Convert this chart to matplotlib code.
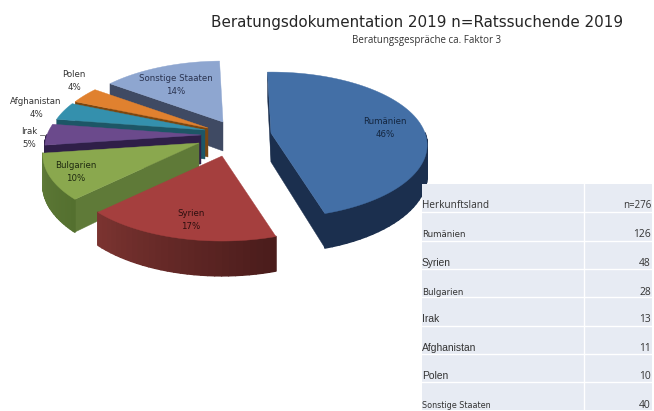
#!/usr/bin/env python3
import matplotlib
matplotlib.use("Agg")
import matplotlib.pyplot as plt
from matplotlib.patches import Polygon, Rectangle
import numpy as np

# data
laender = ['Rumänien', 'Syrien', 'Bulgarien', 'Irak', 'Afghanistan', 'Polen', 'Sonstige Staaten']
werte = [126, 48, 28, 13, 11, 10, 40]
gesamt = 276
pct_labels = ['46%', '17%', '10%', '5%', '4%', '4%', '14%']

# styles / layout, pixel coords of the source image
top_col = ['#436fa6', '#a53f3e', '#8aa84e', '#6b4a8c', '#3490ad', '#e0812f', '#8ea6d0']
rim_col = ['#1b2f4e', '#7c3431', '#5f7a38', '#2f1f48', '#1d5666', '#7c4710', '#3f4a63']
rim_end = ['#1b2f4e', '#4a1c1b', '#54702f', '#2f1f48', '#1d5666', '#7c4710', '#3f4a63']
apex = [(271, 133), (222, 156), (199, 143), (201, 135), (205, 130), (208, 128), (223, 122)]
label_pos = [(385, 128), (191, 220), (76, 172), (29, 138), (36, 108), (74, 81), (176, 85)]
table_fonts = [('Open Sans', 7.2), ('DejaVu Sans', 6.2), ('Liberation Sans', 7.4), ('DejaVu Sans', 6.2),
               ('Liberation Sans', 7.4), ('Liberation Sans', 7.4), ('Liberation Sans', 7.4), ('DejaVu Sans', 5.8)]

A = 154.0
B = 71.0
K = 0.165
DEPTH = 29.0
START = -1.5


def project(ap, theta, r=1.0, z=0.0):
	# simple perspective, back of the pie smaller than the front
	t = np.radians(theta)
	u = r * np.sin(t)
	v = r * np.cos(t)
	s = 1.0 / (1.0 + K * v)
	return np.array([ap[0] + A * u * s, ap[1] - B * v * s + z * DEPTH * s])


def mix(c1, c2, f):
	a = np.array(matplotlib.colors.to_rgb(c1))
	b = np.array(matplotlib.colors.to_rgb(c2))
	return tuple(a + (b - a) * f)


def radial_face(ax, ap, theta, col, zo):
	p = [project(ap, theta, 0.0), project(ap, theta, 1.0), project(ap, theta, 1.0, 1.0), project(ap, theta, 0.0, 1.0)]
	ax.add_patch(Polygon(p, closed=True, fc=col, ec=col, lw=0.3, zorder=zo))


def draw_wedge(ax, i, t0, t1, zo):
	ap = apex[i]
	# side cuts, only those turned to the viewer
	if np.sin(np.radians(t0)) < 0.02:
		radial_face(ax, ap, t0, rim_col[i], zo)
	if -np.sin(np.radians(t1)) < -0.02:
		radial_face(ax, ap, t1, rim_col[i], zo)
	# outer rim in small strips for the shading
	a0 = max(t0, 90.0)
	a1 = min(t1, 270.0)
	if a1 > a0:
		edges = np.linspace(a0, a1, 30)
		for n in range(len(edges) - 1):
			p = [project(ap, edges[n]), project(ap, edges[n + 1]), project(ap, edges[n + 1], 1.0, 1.0), project(ap, edges[n], 1.0, 1.0)]
			f = 1.0 - (edges[n] - a0) / (a1 - a0)
			c = mix(rim_col[i], rim_end[i], f)
			ax.add_patch(Polygon(p, closed=True, fc=c, ec=c, lw=1.2, joinstyle='round', zorder=zo + 0.1))
	# top
	th = np.linspace(t0, t1, 80)
	pts = [project(ap, a) for a in th]
	pts.append(project(ap, t0, 0.0))
	ax.add_patch(Polygon(pts, closed=True, fc=top_col[i], ec=top_col[i], lw=0.3, zorder=zo + 0.2))


fig = plt.figure(figsize=(6.54, 4.11), dpi=100)
ax = fig.add_axes([0, 0, 1, 1])
ax.set_xlim(0, 654)
ax.set_ylim(411, 0)
ax.axis('off')

# wedges, back ones first
grenzen = START + np.cumsum([0] + werte) / gesamt * 360.0
order = [6, 5, 4, 3, 2, 0, 1]
for zo, i in enumerate(order):
	draw_wedge(ax, i, grenzen[i], grenzen[i + 1], 2 + zo)

label_col = ['#14263f', '#2c0f0f', '#1f2a10', '#333333', '#333333', '#333333', '#2a3350']
for i in range(len(laender)):
	ax.text(label_pos[i][0], label_pos[i][1], laender[i] + '\n' + pct_labels[i], ha='center', va='center',
		fontsize=6.2, family='DejaVu Sans', color=label_col[i], linespacing=1.45, zorder=20)
ax.plot([40, 45], [135, 135], color='#666666', lw=0.6, zorder=20)

ax.text(417, 23, 'Beratungsdokumentation 2019 n=Ratssuchende 2019', ha='center', va='center',
	fontsize=10.9, family='DejaVu Sans', color='#262626')
ax.text(427, 41, 'Beratungsgespräche ca. Faktor 3', ha='center', va='center',
	fontsize=7.0, family='Open Sans', color='#333333')

# table
row_lines = [184, 212, 241, 269, 297, 326, 354, 382, 410]
row_text = [205, 234, 263, 292, 319, 348, 376, 405]
links = ['Herkunftsland'] + laender
rechts = ['n=%d' % gesamt] + [str(w) for w in werte]
ax.add_patch(Rectangle((422, 184), 230, 226, fc='#e7ebf3', ec='none', zorder=25))
for y in row_lines[1:-1]:
	ax.plot([422, 652], [y, y], color='white', lw=1.0, zorder=26)
ax.plot([584, 584], [184, 410], color='white', lw=1.0, zorder=26)
for n in range(len(links)):
	fam, fs = table_fonts[n]
	ax.text(422, row_text[n], links[n], ha='left', va='center', fontsize=fs, family=fam, color='#333333', zorder=27)
	ax.text(651, row_text[n], rechts[n], ha='right', va='center', fontsize=7.4 if n else 7.0, family='Open Sans', color='#333333', zorder=27)

fig.savefig('out.png', dpi=100)
plt.close()
